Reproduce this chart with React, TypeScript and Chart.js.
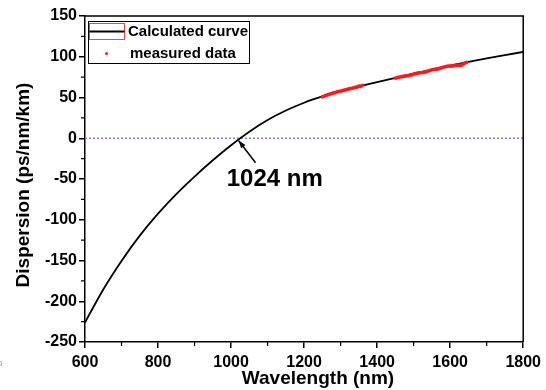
import React, { useEffect, useRef } from 'react';
import { Chart, registerables } from 'chart.js';

Chart.register(...registerables);

const FONT = '"Liberation Sans", Arial, sans-serif';

// Calculated dispersion curve (nm, ps/nm/km)
const curveWavelength = [600, 650, 700, 750, 800, 850, 900, 950, 1000, 1050, 1100, 1150, 1200, 1250, 1300, 1350, 1400, 1450, 1500, 1550, 1600, 1650, 1700, 1750, 1800];
const curveDispersion = [-226, -185.5, -150.5, -119.5, -92.5, -68.5, -47, -27, -8.5, 8, 22.3, 34.0, 43.6, 51.3, 57.8, 63.6, 69.0, 74.2, 79.3, 84.3, 89.1, 93.7, 98.0, 102.0, 105.9];

// Measured data
const measuredWavelength = [
  1250, 1255, 1260, 1265, 1270, 1275, 1280, 1285, 1290, 1295, 1300, 1305, 1310, 1315, 1320, 1325, 1330, 1335, 1340, 1345, 1350, 1355, 1360,
  1450, 1455, 1460, 1465, 1470, 1475, 1480, 1485, 1490, 1495, 1500, 1505, 1510, 1515, 1520, 1525, 1530, 1535, 1540, 1545, 1550, 1555, 1560, 1565, 1570, 1575, 1580, 1585, 1590, 1595, 1600, 1605, 1610, 1615, 1620, 1625, 1630, 1635, 1640, 1645,
];
const measuredDispersion = [
  50.8, 51.6, 52.5, 53.4, 54.2, 54.8, 55.6, 56.1, 56.8, 57.3, 57.9, 58.4, 59.0, 59.6, 60.1, 60.8, 61.2, 61.7, 62.4, 62.9, 64.0, 63.8, 64.8,
  73.8, 74.4, 74.9, 75.2, 75.8, 76.2, 76.6, 76.9, 77.5, 77.9, 78.6, 79.2, 79.8, 80.3, 80.6, 80.6, 81.0, 81.8, 82.4, 83.3, 84.0, 84.4, 84.7, 85.0, 85.6, 86.3, 87.0, 87.6, 88.1, 88.4, 88.6, 88.5, 89.1, 89.7, 89.3, 89.6, 89.5, 90.9, 92.2, 93.2,
];

const xTickValues = [600, 800, 1000, 1200, 1400, 1600, 1800];
const yTickValues = [-250, -200, -150, -100, -50, 0, 50, 100, 150];
const xMinorTicks = [700, 900, 1100, 1300, 1500, 1700];
const yMinorTicks = [-225, -175, -125, -75, -25, 25, 75, 125];

const annotationText = '1024 nm';
const xTitle = 'Wavelength (nm)';
const yTitle = 'Dispersion (ps/nm/km)';
const legendLabels = ['Calculated curve', 'measured data'];

const decorPlugin = {
  id: 'decor',
  afterDraw(chart: any) {
    const { ctx, chartArea: a, scales } = chart;
    const xs = scales.x;
    const ys = scales.y;
    ctx.save();
    // frame top & right
    ctx.strokeStyle = '#000';
    ctx.lineWidth = 1.5;
    ctx.beginPath();
    ctx.moveTo(a.left, a.top);
    ctx.lineTo(a.right, a.top);
    ctx.lineTo(a.right, a.bottom);
    ctx.stroke();
    // minor ticks
    ctx.lineWidth = 1.2;
    ctx.beginPath();
    xMinorTicks.forEach((v) => {
      const px = xs.getPixelForValue(v);
      ctx.moveTo(px, a.bottom);
      ctx.lineTo(px, a.bottom + 4);
    });
    yMinorTicks.forEach((v) => {
      const py = ys.getPixelForValue(v);
      ctx.moveTo(a.left, py);
      ctx.lineTo(a.left - 4, py);
    });
    ctx.stroke();

    // annotation arrow
    const tipX = xs.getPixelForValue(1021);
    const tipY = ys.getPixelForValue(-3);
    const tailX = xs.getPixelForValue(1067);
    const tailY = ys.getPixelForValue(-30);
    ctx.lineWidth = 1.5;
    ctx.beginPath();
    ctx.moveTo(tailX, tailY);
    ctx.lineTo(tipX, tipY);
    ctx.stroke();
    const ang = Math.atan2(tipY - tailY, tipX - tailX);
    const hl = 8;
    ctx.fillStyle = '#000';
    ctx.beginPath();
    ctx.moveTo(tipX, tipY);
    ctx.lineTo(tipX - hl * Math.cos(ang - 0.35), tipY - hl * Math.sin(ang - 0.35));
    ctx.lineTo(tipX - hl * Math.cos(ang + 0.35), tipY - hl * Math.sin(ang + 0.35));
    ctx.closePath();
    ctx.fill();
    ctx.font = `bold 24px ${FONT}`;
    ctx.textAlign = 'left';
    ctx.textBaseline = 'alphabetic';
    ctx.fillText(annotationText, xs.getPixelForValue(988), ys.getPixelForValue(-58.5));

    // legend box
    const lx = a.left + 3;
    const ly = a.top + 5;
    const lw = 161;
    const lh = 42;
    ctx.fillStyle = '#fff';
    ctx.fillRect(lx, ly, lw, lh);
    ctx.strokeStyle = '#000';
    ctx.lineWidth = 1;
    ctx.strokeRect(lx + 0.5, ly + 0.5, lw, lh);
    // line symbol
    ctx.strokeStyle = '#ff4040';
    ctx.lineWidth = 1;
    ctx.strokeRect(lx + 1.5, ly + 2.5, 35, 16);
    ctx.strokeStyle = '#000';
    ctx.lineWidth = 2;
    ctx.beginPath();
    ctx.moveTo(lx + 1.5, ly + 10.5);
    ctx.lineTo(lx + 36.5, ly + 10.5);
    ctx.stroke();
    ctx.fillStyle = '#ff1a1a';
    ctx.beginPath();
    ctx.arc(lx + 18.5, ly + 32.5, 1.5, 0, Math.PI * 2);
    ctx.fill();
    ctx.fillStyle = '#000';
    ctx.font = `bold 15px ${FONT}`;
    ctx.textBaseline = 'middle';
    ctx.fillText(legendLabels[0], lx + 40, ly + 11);
    ctx.fillText(legendLabels[1], lx + 42, ly + 33);

    // axis titles
    ctx.font = `bold 19px ${FONT}`;
    ctx.textAlign = 'center';
    ctx.textBaseline = 'middle';
    ctx.fillText(xTitle, 318, 379);
    ctx.save();
    ctx.translate(24, 185);
    ctx.rotate(-Math.PI / 2);
    ctx.fillText(yTitle, 0, 0);
    ctx.restore();

    // small stray mark at lower-left
    ctx.fillStyle = '#888';
    ctx.font = `8px ${FONT}`;
    ctx.textAlign = 'left';
    ctx.fillText('0', -2, 364);
    ctx.restore();
  },
};

export default function App() {
  const ref = useRef<HTMLCanvasElement>(null);
  useEffect(() => {
    const tickFont = { family: FONT, size: 16, weight: 'bold' as const };
    const chart = new Chart(ref.current!, {
      type: 'line',
      data: {
        datasets: [
          {
            label: legendLabels[1],
            order: 0,
            data: measuredWavelength.map((x, i) => ({ x, y: measuredDispersion[i] })),
            showLine: false,
            pointRadius: 1.9,
            pointBorderWidth: 0,
            pointBackgroundColor: '#ff1a1a',
            borderColor: '#ff1a1a',
          },
          {
            label: legendLabels[0],
            order: 1,
            data: curveWavelength.map((x, i) => ({ x, y: curveDispersion[i] })),
            borderColor: '#000',
            borderWidth: 1.8,
            pointRadius: 0,
            cubicInterpolationMode: 'monotone',
          },
          {
            label: 'zero',
            order: 2,
            data: [
              { x: 600, y: 0 },
              { x: 1800, y: 0 },
            ],
            borderColor: '#8080f5',
            borderWidth: 1.5,
            borderDash: [2, 2],
            pointRadius: 0,
          },
        ],
      },
      options: {
        animation: false,
        responsive: false,
        layout: { padding: { top: 16, right: 22, left: 0, bottom: 0 } },
        plugins: { legend: { display: false }, tooltip: { enabled: false } },
        scales: {
          x: {
            type: 'linear',
            min: 600,
            max: 1800,
            afterBuildTicks: (s: any) => {
              s.ticks = xTickValues.map((v) => ({ value: v }));
            },
            ticks: { color: '#000', font: tickFont, padding: 5, maxRotation: 0, autoSkip: false, callback: (v: any) => String(v) },
            grid: { drawOnChartArea: false, tickLength: 6, color: '#000', lineWidth: 1.5 },
            border: { color: '#000', width: 1.5 },
            afterFit: (s: any) => {
              s.height = 48;
            },
          },
          y: {
            type: 'linear',
            min: -250,
            max: 150,
            afterBuildTicks: (s: any) => {
              s.ticks = yTickValues.map((v) => ({ value: v }));
            },
            ticks: { color: '#000', font: tickFont, padding: 2, autoSkip: false, callback: (v: any) => String(v) },
            grid: { drawOnChartArea: false, tickLength: 6, color: '#000', lineWidth: 1.5 },
            border: { color: '#000', width: 1.5 },
            afterFit: (s: any) => {
              s.width = 85;
            },
          },
        },
      },
      plugins: [decorPlugin],
    } as any);
    return () => chart.destroy();
  }, []);
  return (
    <div style={{ position: 'fixed', left: 0, top: 0, width: 546, height: 390, background: '#fff' }}>
      <canvas ref={ref} width={546} height={390} />
    </div>
  );
}
